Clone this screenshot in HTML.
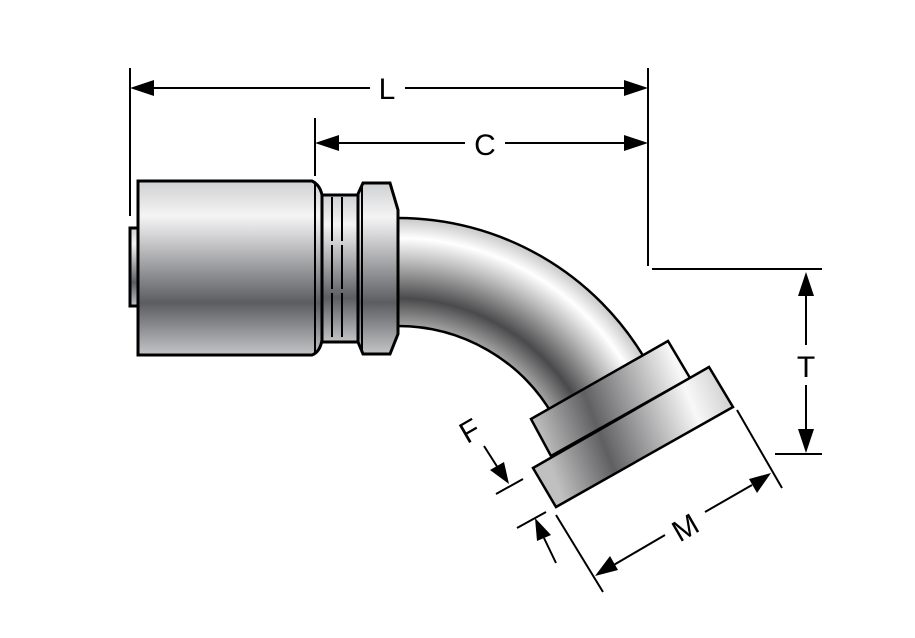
<!DOCTYPE html>
<html><head><meta charset="utf-8"><style>html,body{margin:0;padding:0;background:#fff}svg{display:block}</style></head><body>
<svg width="915" height="638" viewBox="0 0 915 638" xmlns="http://www.w3.org/2000/svg" font-family="Liberation Sans, sans-serif">
<defs>
<linearGradient id="cyl" x1="0" y1="0" x2="0" y2="1">
<stop offset="0" stop-color="#cfd0d2"/><stop offset="0.2" stop-color="#f4f4f4"/><stop offset="0.3" stop-color="#d8d8da"/><stop offset="0.7" stop-color="#5c5d61"/><stop offset="1" stop-color="#c4c5c7"/>
</linearGradient>
<radialGradient id="bend" gradientUnits="userSpaceOnUse" cx="398" cy="505" r="287">
<stop offset="0.62" stop-color="#a8a8a8"/><stop offset="0.72" stop-color="#4a4a4c"/><stop offset="0.85" stop-color="#bdbdbd"/><stop offset="0.93" stop-color="#ffffff"/><stop offset="1" stop-color="#c8c8c8"/>
</radialGradient>
<linearGradient id="fl" gradientUnits="userSpaceOnUse" x1="540" y1="440" x2="720" y2="370">
<stop offset="0" stop-color="#c0c0c0"/><stop offset="0.3" stop-color="#606063"/><stop offset="0.8" stop-color="#f8f8f8"/><stop offset="1" stop-color="#d0d0d0"/>
</linearGradient>
</defs>
<g stroke="#000" stroke-width="3">
<rect x="130" y="228" width="8" height="78" fill="url(#cyl)"/>
<path d="M392,218 L398,218 A287,287 0 0 1 646.5,361.5 L553,415.5 A179,179 0 0 0 398,326 L392,326 Z" fill="url(#bend)" stroke-width="2.5"/>
<rect x="318" y="195" width="40" height="147" fill="url(#cyl)"/>
<path d="M358,194 L363,183 L390,183 L398,210 L398,334 L390,354 L363,354 L358,342 Z" fill="url(#cyl)"/>
<line x1="362" y1="184" x2="362" y2="353" stroke-width="2"/>
<path d="M138,181 L312,181 Q320,185 322,195 L322,340 Q320,352 312,355 L138,355 Z" fill="url(#cyl)"/>
<line x1="315" y1="182" x2="315" y2="354" stroke-width="2"/>
</g>
<g stroke="#000" stroke-width="2">
<line x1="332" y1="197" x2="332" y2="340" stroke-dasharray="44,4"/>
<line x1="342" y1="197" x2="342" y2="340" stroke-dasharray="44,4"/>
</g>
<g stroke="#000" stroke-width="2.5" fill="url(#fl)">
<polygon points="531,419 668,341 690,378 551,456"/>
<polygon points="533,468 709,367 733,407 556,507"/>
</g>
<g stroke="#000" stroke-width="2" fill="none">
<line x1="130" y1="68" x2="130" y2="216"/>
<line x1="648" y1="68" x2="648" y2="266"/>
<line x1="652" y1="269" x2="822" y2="269"/>
<line x1="775" y1="454" x2="822" y2="454"/>
<line x1="315" y1="118" x2="315" y2="176"/>
<line x1="150" y1="88" x2="370" y2="88"/><line x1="405" y1="88" x2="628" y2="88"/>
<line x1="335" y1="143" x2="465" y2="143"/><line x1="505" y1="143" x2="628" y2="143"/>
<line x1="806" y1="292" x2="806" y2="345"/><line x1="806" y1="385" x2="806" y2="433"/>
<line x1="496" y1="494" x2="523" y2="479"/>
<line x1="517" y1="528" x2="546" y2="512"/>
<line x1="484" y1="446" x2="498" y2="468"/>
<line x1="556" y1="563" x2="544" y2="538"/>
<line x1="556" y1="515" x2="603" y2="592"/>
<line x1="737" y1="410" x2="782" y2="488"/>
<line x1="612" y1="566" x2="665" y2="535"/>
<line x1="705" y1="512" x2="752" y2="485"/>
</g>
<g fill="#000">
<polygon points="130,88 154,80 154,96"/><polygon points="648,88 624,80 624,96"/>
<polygon points="315,143 339,135 339,151"/><polygon points="648,143 624,135 624,151"/>
<polygon points="806,272 798,296 814,296"/><polygon points="806,453 798,429 814,429"/>
<polygon points="509,484 504,462 490,470"/>
<polygon points="535,518 551,535 537,541"/>
<polygon points="595,576 610,556 618,570"/>
<polygon points="771,473 757,493 749,479"/>
</g>
<g font-size="30" fill="#000" text-anchor="middle">
<text x="387" y="99">L</text>
<text x="485" y="155">C</text>
<text x="806" y="377">T</text>
<text x="470" y="441" transform="rotate(-30 470 431)">F</text>
<text x="685" y="538" transform="rotate(-30 685 527)">M</text>
</g>
</svg>
</body></html>
